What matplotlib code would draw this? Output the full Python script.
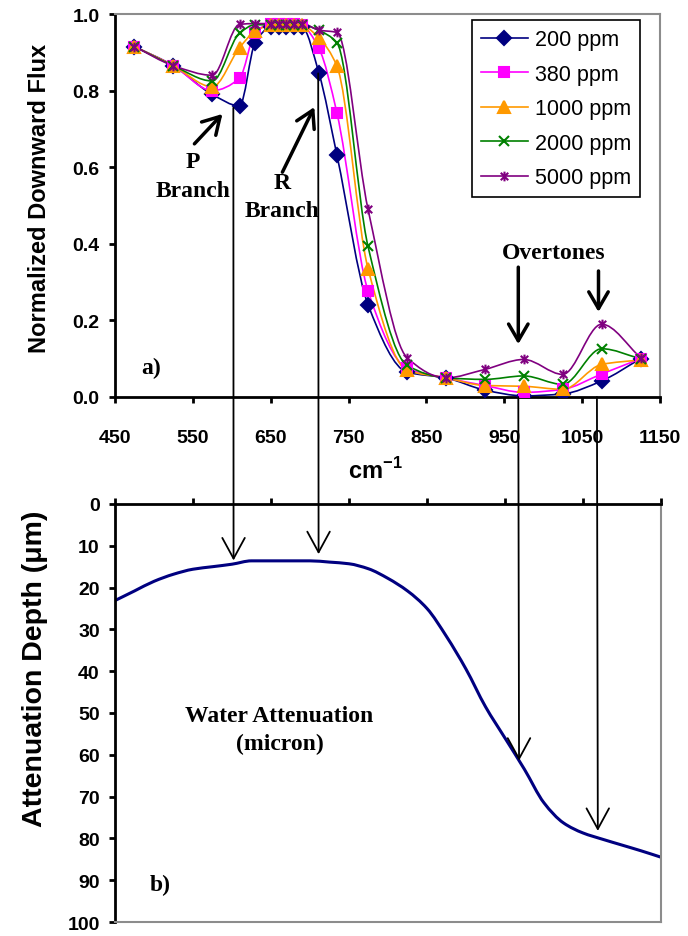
import numpy as np
import matplotlib
matplotlib.use("Agg")
import matplotlib.pyplot as plt
from matplotlib.path import Path
from matplotlib.patches import PathPatch, ConnectionPatch
from matplotlib.lines import Line2D

plt.rcParams['font.family'] = ['Liberation Sans', 'DejaVu Sans']
plt.rcParams['mathtext.fontset'] = 'custom'
plt.rcParams['mathtext.bf'] = 'Liberation Sans:bold'
plt.rcParams['mathtext.rm'] = 'Liberation Sans'

# --- data: top panel (normalized downward flux) ---
wavenumber = [475, 525, 575, 610, 630, 650, 660, 670, 680, 690, 712, 735,
              775, 825, 875, 925, 975, 1025, 1075, 1125]
flux_200 = [0.915, 0.865, 0.79, 0.76, 0.925, 0.965, 0.965, 0.965, 0.965, 0.965,
            0.845, 0.632, 0.241, 0.065, 0.05, 0.018, 0.003, 0.008, 0.042, 0.10]
flux_380 = [0.915, 0.865, 0.80, 0.832, 0.95, 0.975, 0.975, 0.975, 0.975, 0.97,
            0.91, 0.742, 0.277, 0.075, 0.05, 0.03, 0.012, 0.02, 0.06, 0.10]
flux_1000 = [0.915, 0.865, 0.81, 0.912, 0.955, 0.97, 0.97, 0.97, 0.97, 0.97,
             0.937, 0.864, 0.335, 0.07, 0.05, 0.03, 0.028, 0.02, 0.085, 0.097]
flux_2000 = [0.915, 0.865, 0.825, 0.95, 0.972, 0.972, 0.972, 0.972, 0.972, 0.972,
             0.957, 0.925, 0.393, 0.083, 0.05, 0.046, 0.055, 0.033, 0.126, 0.10]
flux_5000 = [0.915, 0.865, 0.84, 0.973, 0.975, 0.975, 0.975, 0.975, 0.975, 0.975,
             0.958, 0.952, 0.49, 0.103, 0.05, 0.072, 0.098, 0.059, 0.19, 0.103]
series_labels = ['200 ppm', '380 ppm', '1000 ppm', '2000 ppm', '5000 ppm']

# --- data: bottom panel (water attenuation depth, micron) ---
water_wn = [450, 475, 500, 525, 550, 575, 600, 625, 650, 675, 700, 725, 750,
            775, 800, 825, 850, 875, 900, 925, 950, 975, 1000, 1025, 1050,
            1075, 1100, 1125, 1150]
water_depth = [23.1, 20.8, 18.5, 16.8, 15.6, 15.0, 14.4, 13.6, 13.6, 13.6, 13.6,
               13.9, 14.3, 15.5, 17.8, 20.8, 25.0, 31.7, 39.5, 48.5, 56.0, 63.5,
               71.5, 76.3, 78.7, 80.2, 81.6, 83.0, 84.5]

navy = '#000080'
colors = [navy, '#FF00FF', '#FF9900', '#008000', '#800080']

# asterisk marker like excel's "*"
star = Path([(-1, -1), (1, 1), (-1, 1), (1, -1), (0, -1.3), (0, 1.3)],
            [Path.MOVETO, Path.LINETO, Path.MOVETO, Path.LINETO, Path.MOVETO, Path.LINETO])
markers = ['D', 's', '^', 'x', star]
msizes = [7, 7, 8, 7, 7]


def smooth_path(x, y):
    # monotone hermite tangents -> cubic bezier segments, drawn by matplotlib
    x = np.asarray(x, float)
    y = np.asarray(y, float)
    h = np.diff(x)
    d = np.diff(y) / h
    m = np.zeros_like(y)
    m[0], m[-1] = d[0], d[-1]
    for i in range(1, len(x) - 1):
        if d[i - 1] * d[i] > 0:
            w1 = 2 * h[i] + h[i - 1]
            w2 = h[i] + 2 * h[i - 1]
            m[i] = (w1 + w2) / (w1 / d[i - 1] + w2 / d[i])
    verts = [(x[0], y[0])]
    codes = [Path.MOVETO]
    for i in range(len(x) - 1):
        verts += [(x[i] + h[i] / 3, y[i] + m[i] * h[i] / 3),
                  (x[i + 1] - h[i] / 3, y[i + 1] - m[i + 1] * h[i] / 3),
                  (x[i + 1], y[i + 1])]
        codes += [Path.CURVE4] * 3
    return Path(verts, codes)


W, H = 688, 937
fig = plt.figure(figsize=(W / 100, H / 100), dpi=100)


def px_rect(l, t, r, b):
    return [l / W, 1 - b / H, (r - l) / W, (b - t) / H]


ax1 = fig.add_axes(px_rect(115, 15, 660, 398))
ax2 = fig.add_axes(px_rect(115, 505, 661, 923))

gray = '#8c8c8c'
for ax in (ax1, ax2):
    ax.set_xlim(450, 1150)
    ax.set_xticks(np.arange(450, 1151, 100))
    for s in ax.spines.values():
        s.set_linewidth(2)

# top panel
all_flux = [flux_200, flux_380, flux_1000, flux_2000, flux_5000]
handles = []
for vals, c, m, ms, lab in zip(all_flux, colors, markers, msizes, series_labels):
    ax1.add_patch(PathPatch(smooth_path(wavenumber, vals), facecolor='none',
                            edgecolor=c, lw=1.2, zorder=2))
    ax1.plot(wavenumber, vals, linestyle='none', marker=m, ms=ms, color=c,
             mec=c, mew=1.5, zorder=3)
    handles.append(Line2D([], [], color=c, lw=1.2, marker=m, ms=ms, mec=c, mew=1.5, label=lab))

ax1.set_ylim(0, 1.0)
ax1.set_yticks(np.arange(0, 1.01, 0.2))
ax1.set_yticklabels([f'{v:.1f}' for v in np.arange(0, 1.01, 0.2)])
ax1.spines['top'].set_color(gray)
ax1.spines['right'].set_color(gray)
ax1.spines['top'].set_linewidth(1.5)
ax1.spines['right'].set_linewidth(1.5)
ax1.tick_params(axis='x', direction='out', length=4, width=2, pad=19, labelsize=14)
ax1.tick_params(axis='y', direction='out', length=4, width=2, pad=7, labelsize=14)
for t in ax1.get_xticklabels() + ax1.get_yticklabels():
    t.set_fontweight('bold')

leg = ax1.legend(handles=handles, loc='upper right', bbox_to_anchor=(0.963, 0.984),
                 borderaxespad=0, fancybox=False, edgecolor='black', framealpha=1,
                 fontsize=15.5, handlelength=2.2, handletextpad=0.3, labelspacing=0.63,
                 borderpad=0.42)
leg.get_frame().set_linewidth(1.2)

serif = dict(family='Liberation Serif', weight='bold', fontsize=17, ha='center', va='center')
ax1.text(550, 0.616, 'P', **serif)
ax1.text(550, 0.538, 'Branch', **serif)
ax1.text(665, 0.561, 'R', **serif)
ax1.text(665, 0.486, 'Branch', **serif)
ax1.text(1013, 0.376, 'Overtones', **serif)
ax1.text(497, 0.076, 'a)', **serif)

thick = dict(arrowstyle='->,head_length=0.6,head_width=0.35', lw=2.5, color='black',
             mutation_scale=20, shrinkA=0, shrinkB=0)
ax1.annotate('', xy=(588, 0.739), xytext=(552, 0.661), arrowprops=thick)
ax1.annotate('', xy=(706, 0.757), xytext=(665, 0.587), arrowprops=thick)
ax1.annotate('', xy=(968, 0.138), xytext=(968, 0.339), arrowprops=thick)
ax1.annotate('', xy=(1071, 0.222), xytext=(1071, 0.329), arrowprops=thick)

fig.text(375 / W, 1 - 471 / H, r'cm$^{\mathbf{-1}}$', fontsize=17, fontweight='bold',
         ha='center', va='center')
fig.text(40 / W, 1 - 198 / H, 'Normalized Downward Flux', fontsize=17, fontweight='bold',
         rotation=90, ha='center', va='center')

# bottom panel
ax2.add_patch(PathPatch(smooth_path(water_wn, water_depth), facecolor='none',
                        edgecolor=navy, lw=2.2, zorder=2))
ax2.set_ylim(100, 0)
ax2.set_yticks(np.arange(0, 101, 10))
ax2.xaxis.tick_top()
ax2.tick_params(axis='x', direction='out', length=4, width=2, labeltop=False, labelbottom=False)
ax2.tick_params(axis='y', direction='out', length=4, width=2, pad=7, labelsize=14)
for t in ax2.get_yticklabels():
    t.set_fontweight('bold')
ax2.spines['bottom'].set_color(gray)
ax2.spines['right'].set_color(gray)
ax2.spines['bottom'].set_linewidth(1.5)
ax2.spines['right'].set_linewidth(1.5)

ax2.text(661, 50.5, 'Water Attenuation', **serif)
ax2.text(661, 57.4, '(micron)', **serif)
ax2.text(508, 91, 'b)', **serif)

fig.text(35 / W, 1 - 669 / H, 'Attenuation Depth (\u03bcm)', fontsize=20.5, fontweight='bold',
         rotation=90, ha='center', va='center')

# long arrows linking the two panels
links = [((602, 0.755), (602, 13.5)), ((711, 0.845), (711, 12.0)),
         ((968, 0.0), (968, 61.4)), ((1069, 0.0), (1069, 78.2))]
for a, b in links:
    con = ConnectionPatch(xyA=a, coordsA=ax1.transData, xyB=b, coordsB=ax2.transData,
                          arrowstyle='->,head_length=0.55,head_width=0.3', lw=1.3,
                          color='black', mutation_scale=27, shrinkA=0, shrinkB=0, zorder=5)
    fig.add_artist(con)

fig.savefig('out.png', dpi=100)
